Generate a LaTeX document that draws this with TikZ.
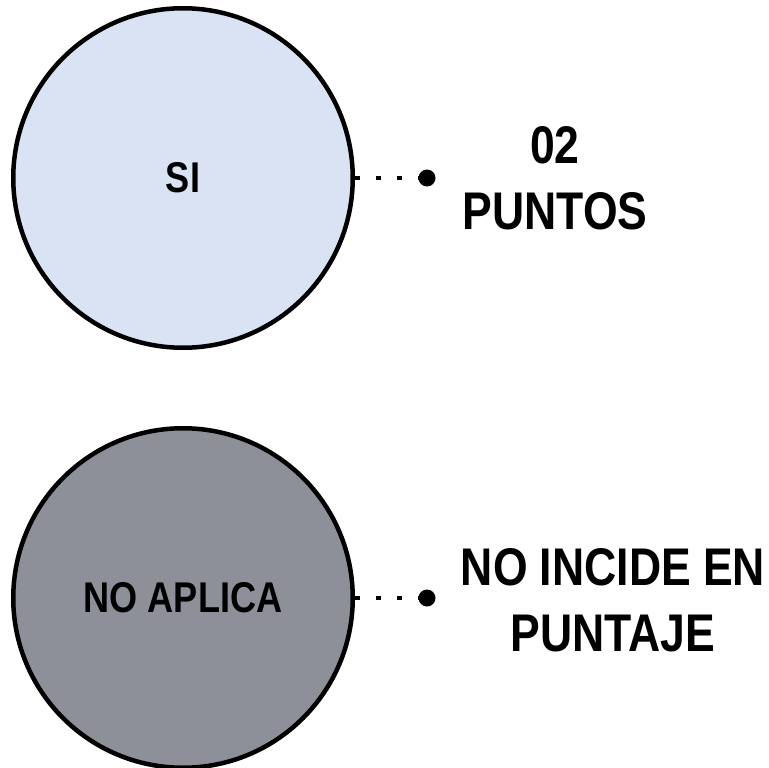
\documentclass[tikz,border=0pt]{standalone}
\usepackage{fontspec}
\setmainfont{Liberation Sans}[FakeStretch=0.84]
\definecolor{siblue}{HTML}{DAE3F3}
\definecolor{nogray}{HTML}{8E9099}
\begin{document}
\begin{tikzpicture}[x=1pt,y=-1pt,
  bigcircle/.style={circle,draw=black,line width=4.5pt,inner sep=0pt,minimum size=339.5pt,
    font=\fontsize{43}{50}\selectfont\bfseries},
  enddot/.style={circle,fill=black,inner sep=0pt,minimum size=17pt},
  conn/.style={line width=4.5pt,dash pattern=on 5pt off 16pt},
  sidetext/.style={align=center,font=\fontsize{53}{66}\selectfont\bfseries}]
\useasboundingbox (0,0) rectangle (769,768);
\node[bigcircle,fill=siblue] (si) at (183,178) {SI};
\node[bigcircle,fill=nogray] (no) at (183,598) {NO APLICA};
\node[enddot] (d1) at (427,178) {};
\node[enddot] (d2) at (427,598) {};
\draw[conn] (si.east) -- (d1.center);
\draw[conn] (no.east) -- (d2.center);
\node[sidetext] (t1) at (555,178) {02\\PUNTOS};
\node[sidetext] (t2) at (613,600) {NO INCIDE EN\\PUNTAJE};
\end{tikzpicture}
\end{document}
